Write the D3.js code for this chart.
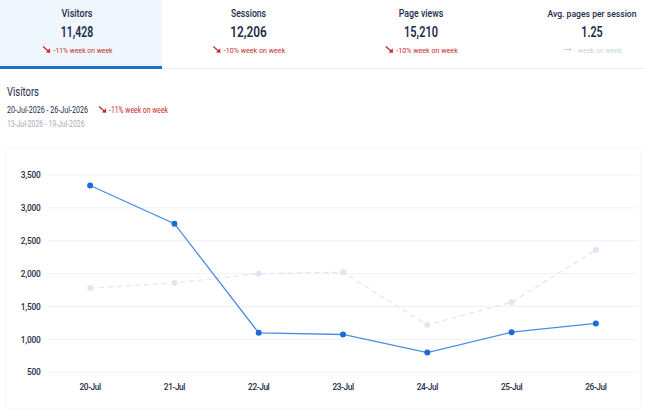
<!DOCTYPE html>
<html>
<head>
<meta charset="utf-8">
<script src="https://cdn.jsdelivr.net/npm/d3@7"></script>
<style>
  body { margin: 0; background: #fff; font-family: Roboto, "Open Sans", sans-serif; }
  svg { display: block; }
</style>
</head>
<body>
<div id="chart"></div>
<script>
// tab summary data
const tabTitles = ["Visitors", "Sessions", "Page views", "Avg. pages per session"];
const tabValues = ["11,428", "12,206", "15,210", "1.25"];
const tabDeltas = ["-11% week on week", "-10% week on week", "-10% week on week", "- week on week"];
const tabTrend = ["down", "down", "down", "flat"];

// chart data
const days = ["20-Jul", "21-Jul", "22-Jul", "23-Jul", "24-Jul", "25-Jul", "26-Jul"];
const currentWeek = [3340, 2760, 1100, 1075, 800, 1110, 1243];
const previousWeek = [1780, 1857, 2000, 2020, 1220, 1565, 2360];
const yTicks = [500, 1000, 1500, 2000, 2500, 3000, 3500];

const width = 645, height = 411;
const red = "#c62828", navy = "#1c2b4a";

// the original uses a narrow font, so headline texts are squeezed to the widths seen there
const tabCenters = [77, 248.5, 421, 592];
const titleWidths = [31, 35, 44.5, 89];
const valueWidths = [32.5, 36.5, 34, 21.5];
const deltaWidths = [59, 61.5, 61.5, 47.5];

var svg = d3.select("#chart").append("svg")
    .attr("width", width)
    .attr("height", height);

var defs = svg.append("defs");
var shadow = defs.append("filter").attr("id", "shadow")
    .attr("x", "-5%").attr("y", "-5%").attr("width", "110%").attr("height", "110%");
shadow.append("feDropShadow")
    .attr("dx", 0).attr("dy", 0).attr("stdDeviation", 2)
    .attr("flood-color", "#000").attr("flood-opacity", 0.06);

// squeeze a text to a width; shrink the font only if its natural width would run off the page
function fit(sel, w) {
    var natural = sel.node().getComputedTextLength();
    var left = +sel.attr("x");
    if (left + natural > width - 3) {
        var fs = +sel.attr("font-size");
        sel.attr("font-size", fs * (width - 3 - left) / natural);
    }
    return sel.attr("textLength", w).attr("lengthAdjust", "spacingAndGlyphs");
}

// small trend arrow drawn as a path
function arrow(g, x, y, kind, color) {
    if (kind === "down") {
        g.append("path")
            .attr("d", `M${x},${y - 3} L${x + 5.5},${y + 1.8}`)
            .attr("stroke", color).attr("stroke-width", 1.3).attr("fill", "none");
        g.append("path")
            .attr("d", `M${x + 7.2},${y + 3.2} L${x + 2.8},${y + 3} L${x + 7},${y - 1.2} Z`)
            .attr("fill", color);
    } else {
        g.append("path")
            .attr("d", `M${x},${y} L${x + 6},${y}`)
            .attr("stroke", color).attr("stroke-width", 1).attr("fill", "none");
        g.append("path")
            .attr("d", `M${x + 8.5},${y} L${x + 5.5},${y - 2} L${x + 5.5},${y + 2} Z`)
            .attr("fill", color);
    }
}

// tabs
svg.append("rect").attr("x", 0).attr("y", 0).attr("width", 162).attr("height", 67).attr("fill", "#f0f6fd");
svg.append("line").attr("x1", 0).attr("x2", width).attr("y1", 68.5).attr("y2", 68.5)
    .attr("stroke", "#eceef1").attr("stroke-width", 1);
svg.append("rect").attr("x", 0).attr("y", 66).attr("width", 162).attr("height", 3).attr("fill", "#1e6fcf");

tabTitles.forEach((t, i) => {
    var g = svg.append("g");
    var cx = tabCenters[i];
    fit(g.append("text").attr("x", cx - titleWidths[i] / 2).attr("y", 16.8)
        .attr("font-size", 10.5).attr("font-weight", 500).attr("fill", navy).text(t), titleWidths[i]);
    fit(g.append("text").attr("x", cx - valueWidths[i] / 2).attr("y", 36.8)
        .attr("font-size", 15).attr("font-weight", 600).attr("fill", navy).text(tabValues[i]), valueWidths[i]);
    var col = tabTrend[i] === "down" ? red : "#c9d3e0";
    var tx = cx + 6 - deltaWidths[i] / 2;
    fit(g.append("text").attr("x", tx).attr("y", 53)
        .attr("font-size", 8).attr("fill", col).text(tabDeltas[i]), deltaWidths[i]);
    arrow(g, tx - 10.5, 49.5, tabTrend[i], col);
});

// section header
fit(svg.append("text").attr("x", 7).attr("y", 95.7).attr("font-size", 12).attr("fill", navy).text("Visitors"), 32);
fit(svg.append("text").attr("x", 7).attr("y", 113).attr("font-size", 8.5).attr("fill", navy)
    .text("20-Jul-2026 - 26-Jul-2026"), 81);
arrow(svg, 99, 109.5, "down", red);
fit(svg.append("text").attr("x", 109).attr("y", 113).attr("font-size", 8.5).attr("fill", red)
    .text("-11% week on week"), 59);
fit(svg.append("text").attr("x", 7).attr("y", 126.5).attr("font-size", 8.5).attr("fill", "#a3abb7")
    .text("13-Jul-2026 - 19-Jul-2026"), 77.5);

// chart card
svg.append("rect").attr("x", 7).attr("y", 150).attr("width", 633).attr("height", 258)
    .attr("rx", 3).attr("fill", "#fff").attr("filter", "url(#shadow)");

var x = d3.scaleBand().domain(days).range([48, 638]).padding(0);
var y = d3.scaleLinear().domain([500, 3500]).range([372.3, 175]);

// grid
svg.append("g").selectAll("line").data(yTicks).enter().append("line")
    .attr("x1", 48).attr("x2", 638)
    .attr("y1", d => y(d)).attr("y2", d => y(d))
    .attr("stroke", "#eff1f4").attr("stroke-width", 1);

// y axis
var yAxis = svg.append("g").attr("transform", "translate(40.5,0)")
    .call(d3.axisLeft(y).tickValues(yTicks).tickSize(0).tickPadding(0).tickFormat(d3.format(",")));
yAxis.select(".domain").remove();
yAxis.selectAll("text").attr("font-size", 8.3).attr("font-weight", 500).attr("fill", navy)
    .attr("font-family", "Roboto, sans-serif").attr("letter-spacing", -0.2);

// x axis
var xAxis = svg.append("g").attr("transform", "translate(0,384)")
    .call(d3.axisBottom(x).tickSize(0).tickPadding(0));
xAxis.select(".domain").remove();
xAxis.selectAll("text").attr("font-size", 8.3).attr("font-weight", 500).attr("fill", navy)
    .attr("font-family", "Roboto, sans-serif").attr("dy", "0.71em").attr("letter-spacing", -0.4);

var cx = d => x(d) + x.bandwidth() / 2;
var line = d3.line().x((d, i) => cx(days[i])).y(d => y(d));

// previous week (dashed)
svg.append("path").datum(previousWeek)
    .attr("d", line).attr("fill", "none")
    .attr("stroke", "#dfe7f2").attr("stroke-width", 1.3).attr("stroke-dasharray", "5,4");
svg.append("g").selectAll("circle").data(previousWeek).enter().append("circle")
    .attr("cx", (d, i) => cx(days[i])).attr("cy", d => y(d)).attr("r", 3)
    .attr("fill", "#dde6f2");

// current week
svg.append("path").datum(currentWeek)
    .attr("d", line).attr("fill", "none")
    .attr("stroke", "#4a8de0").attr("stroke-width", 1.3);
svg.append("g").selectAll("circle").data(currentWeek).enter().append("circle")
    .attr("cx", (d, i) => cx(days[i])).attr("cy", d => y(d)).attr("r", 3)
    .attr("fill", "#1a6dd6");
</script>
</body>
</html>
